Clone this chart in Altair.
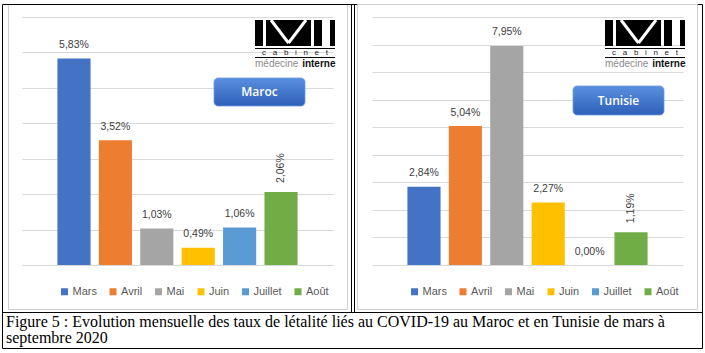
import altair as alt
import pandas as pd

# ---------------- data ----------------
months = ["Mars", "Avril", "Mai", "Juin", "Juillet", "Août"]
month_colors = ["#4472C4", "#ED7D31", "#A5A5A5", "#FFC000", "#5B9BD5", "#70AD47"]
maroc_rates = [5.83, 3.52, 1.03, 0.49, 1.06, 2.06]
tunisie_rates = [2.84, 5.04, 7.95, 2.27, 0.00, 1.19]
maroc_grid = [0, 1, 2, 3, 4, 5, 6, 7]
tunisie_grid = [0, 1, 2, 3, 4, 5, 6, 7, 8, 9]
panel_names = ["Maroc", "Tunisie"]
logo_words = ["cabinet", "médecine", "interne"]
caption_lines = [
    "Figure 5 : Evolution mensuelle des taux de létalité liés au COVID-19 au Maroc et en Tunisie de mars à",
    "septembre 2020",
]

W, H = 311, 248
SANS = "Liberation Sans"
ONE = alt.Data(values=[{"k": 1}])


def fmt(v):
    return f"{v:.2f}%".replace(".", ",")


def frame_box(x, x2, y, y2, stroke, width=1.0):
    return alt.Chart(ONE).mark_rect(fillOpacity=0, stroke=stroke, strokeWidth=width).encode(
        x=alt.value(x), x2=alt.value(x2), y=alt.value(y), y2=alt.value(y2))


def rule(x, x2, y, y2, color, width=1.0):
    return alt.Chart(ONE).mark_rule(color=color, strokeWidth=width).encode(
        x=alt.value(x), x2=alt.value(x2), y=alt.value(y), y2=alt.value(y2))


def block(x, x2, y, y2, color):
    return alt.Chart(ONE).mark_rect(color=color).encode(
        x=alt.value(x), x2=alt.value(x2), y=alt.value(y), y2=alt.value(y2))


def note(text, x, y, **kw):
    return alt.Chart(ONE).mark_text(**kw).encode(
        x=alt.value(x), y=alt.value(y), text=alt.value(text))


def logo():
    spaced = "\u00a0\u00a0\u00a0".join(list(logo_words[0]))
    return [
        block(233, 241, 3, 29, "#000000"),
        block(244, 289, 3, 29, "#000000"),
        rule(249, 266.5, 3, 26, "#FFFFFF", 3),
        rule(284, 266.5, 3, 26, "#FFFFFF", 3),
        block(292, 300, 3, 29, "#000000"),
        block(308, 313, 3, 29, "#000000"),
        rule(233, 313, 31.5, 31.5, "#000000", 1),
        note(spaced, 273, 36, align="center", baseline="middle", fontSize=8,
             font=SANS, color="#222222"),
        rule(233, 313, 40.5, 40.5, "#000000", 1.2),
        note(logo_words[1], 233, 47, align="left", baseline="middle", fontSize=10,
             font=SANS, color="#8C8C8C"),
        note(logo_words[2], 313.5, 47, align="right", baseline="middle", fontSize=10,
             font=SANS, fontWeight="bold", color="#111111"),
    ]


grad = alt.Gradient(
    gradient="linear",
    stops=[alt.GradientStop(color="#5A8FE0", offset=0),
           alt.GradientStop(color="#2D60B8", offset=1)],
    x1=0, x2=0, y1=0, y2=1,
)


def button(name, x, x2, y, y2):
    return [
        alt.Chart(ONE).mark_rect(color=grad, cornerRadius=4, stroke="#6F9BE0",
                                 strokeWidth=0.8).encode(
            x=alt.value(x), x2=alt.value(x2), y=alt.value(y), y2=alt.value(y2)),
        note(name, (x + x2) / 2, (y + y2) / 2, align="center", baseline="middle",
             fontSize=12, font="Open Sans", fontWeight=600, color="#FFFFFF"),
    ]


def panel(values, grid, name, btn, extra):
    df = pd.DataFrame({"mois": months, "taux": values})
    df["label"] = [fmt(v) for v in values]
    base = alt.Chart(df)
    x = alt.X("mois:N", sort=months, axis=None,
              scale=alt.Scale(paddingInner=0.2, paddingOuter=0.855))
    y = alt.Y("taux:Q", scale=alt.Scale(domain=[grid[0], grid[-1]], nice=False),
              axis=alt.Axis(values=grid, grid=True, gridColor="#D9D9D9", gridWidth=1,
                            labels=False, ticks=False, domain=False, title=None,
                            tickCount=len(grid)))
    color = alt.Color(
        "mois:N", sort=months,
        scale=alt.Scale(domain=months, range=month_colors),
        legend=alt.Legend(orient="none", legendX=37, legendY=269, direction="horizontal",
                          title=None, symbolType="square", symbolSize=49,
                          symbolStrokeWidth=0, labelFontSize=11, labelFont=SANS,
                          labelColor="#595959", labelOffset=2.5, columnPadding=10.5,
                          padding=0),
    )
    bars = base.mark_bar().encode(x=x, y=y, color=color)
    lab = base.transform_filter(alt.datum.mois != "Août").mark_text(
        baseline="middle", dy=-13.5, fontSize=10.5, font=SANS, color="#404040"
    ).encode(x=x, y=y, text="label:N")
    labv = base.transform_filter(alt.datum.mois == "Août").mark_text(
        angle=270, align="left", baseline="middle", dx=9, fontSize=10.5, font=SANS,
        color="#404040"
    ).encode(x=x, y=y, text="label:N")
    layers = extra + [bars, lab, labv] + logo() + button(name, *btn)
    return alt.layer(*layers).properties(width=W, height=H)


left_extra = [
    frame_box(-13.5, 325.5, -12.5, 292.5, "#D0D0D0"),
    rule(329.5, 329.5, -12.5, 295.5, "#000000"),
    rule(332.5, 332.5, -12.5, 295.5, "#000000"),
    rule(-19.5, 680.5, 295.5, 295.5, "#000000"),
    frame_box(-19.5, 680.5, -12.5, 331.5, "#000000"),
    note(caption_lines[0], -16, 310, align="left", baseline="alphabetic",
         font="Liberation Serif", fontSize=16, color="#000000"),
    note(caption_lines[1], -16, 326, align="left", baseline="alphabetic",
         font="Liberation Serif", fontSize=16, color="#000000"),
]
right_extra = [
    frame_box(-14.5, 325.5, -12.5, 292.5, "#D0D0D0"),
]

left = panel(maroc_rates, maroc_grid, panel_names[0], (192, 283, 61, 89), left_extra)
right = panel(tunisie_rates, tunisie_grid, panel_names[1], (201, 292, 69, 98), right_extra)

chart = alt.hconcat(
    left, right, spacing=39, bounds="flush",
    padding={"left": 2, "top": 4, "right": 0, "bottom": 2},
).resolve_scale(
    x="independent", y="independent", color="independent"
).resolve_legend(color="independent").configure_view(stroke=None).properties(
    background="white"
)

chart.save("out.html", embed_options={"renderer": "svg", "actions": False})
